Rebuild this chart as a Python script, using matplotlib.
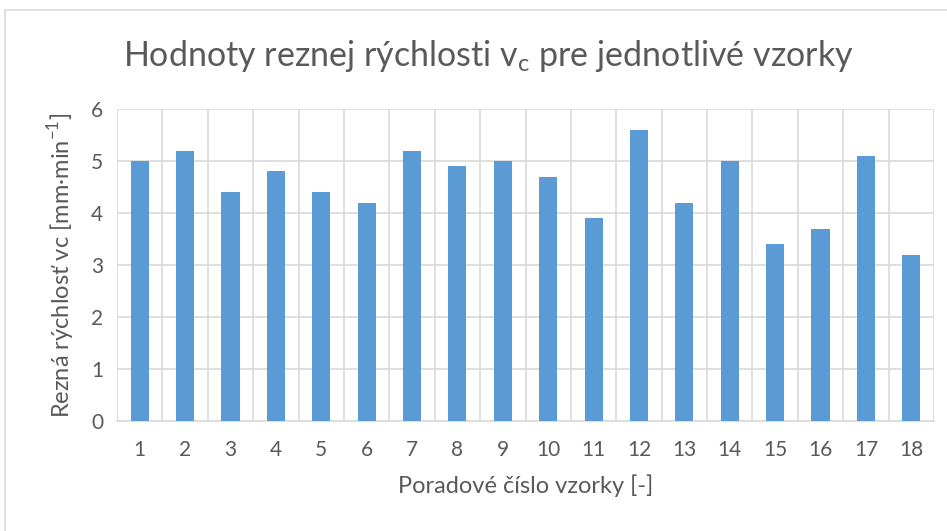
import matplotlib.pyplot as plt
import numpy as np
from matplotlib.patches import Rectangle

samples = list(range(1, 19))
cutting_speed = [5.0, 5.2, 4.4, 4.8, 4.4, 4.2, 5.2, 4.9, 5.0,
                 4.7, 3.9, 5.6, 4.2, 5.0, 3.4, 3.7, 5.1, 3.2]
y_ticks = [0, 1, 2, 3, 4, 5, 6]

text_color = "#595959"
grid_color = "#d9d9d9"
bar_color = "#5b9bd5"

plt.rcParams["font.family"] = ["Lato", "DejaVu Sans"]
plt.rcParams["mathtext.fontset"] = "custom"
plt.rcParams["mathtext.rm"] = "Lato"

fig = plt.figure(figsize=(9.47, 5.31), dpi=100)
fig.patches.append(Rectangle((5 / 947, -0.1), 1.2, 1 - 10 / 531 + 0.1,
                             transform=fig.transFigure, fill=False,
                             edgecolor=grid_color, linewidth=1.2))

ax = fig.add_axes([117 / 947, 1 - 421 / 531, (934 - 117) / 947, (421 - 109) / 531])

ax.bar(samples, cutting_speed, width=0.4, color=bar_color, zorder=3)

ax.set_xlim(0.5, 18.5)
ax.set_ylim(0, 6)
ax.set_xticks(samples)
ax.set_yticks(y_ticks)
ax.set_xticks(np.arange(0.5, 19, 1), minor=True)

ax.grid(axis="y", which="major", color=grid_color, linewidth=1.2, zorder=0)
ax.grid(axis="x", which="minor", color=grid_color, linewidth=1.2, zorder=0)
ax.grid(axis="x", which="major", visible=False)

for side in ["top", "right", "left"]:
    ax.spines[side].set_visible(False)
ax.spines["bottom"].set_color(grid_color)
ax.spines["bottom"].set_linewidth(1.2)

ax.tick_params(axis="both", which="both", length=0, labelsize=15,
               labelcolor=text_color)
ax.tick_params(axis="x", pad=14)
ax.tick_params(axis="y", pad=10)

ax.set_xlabel("Poradové číslo vzorky [-]", fontsize=17, color=text_color,
              labelpad=10)
ax.set_ylabel("Rezná rýchlosť vc [mm·min$^{-1}$]", fontsize=17,
              color=text_color, labelpad=10)

fig.text(0.516, 1 - 56 / 531, "Hodnoty reznej rýchlosti v$_{\\mathrm{c}}$ pre jednotlivé vzorky",
         ha="center", va="center", fontsize=24.5, color=text_color)

fig.savefig("out.png", dpi=100)
plt.close(fig)
